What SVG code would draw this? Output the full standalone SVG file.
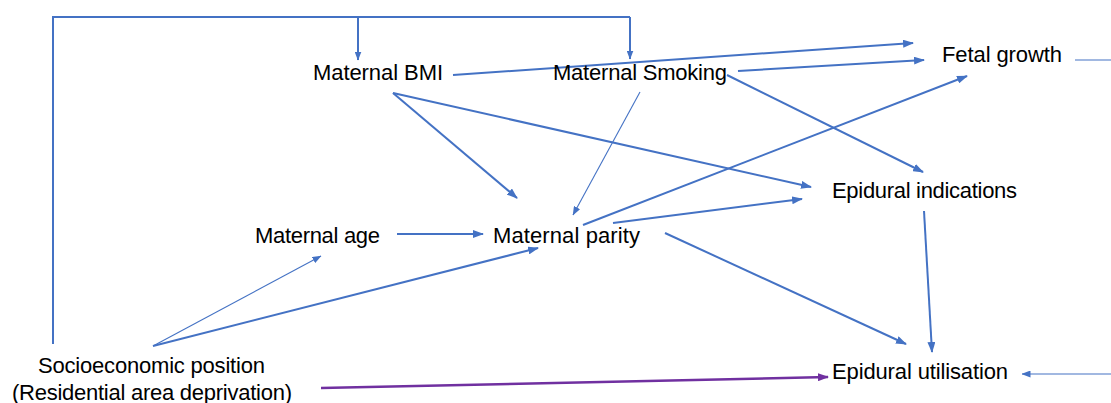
<svg xmlns="http://www.w3.org/2000/svg" width="1111" height="403" viewBox="0 0 1111 403">
<style>
text{font-family:"Liberation Sans",Arial,sans-serif;font-size:22px;fill:#000;text-anchor:middle}
.c{stroke:#4472C4;stroke-width:2;fill:none}
.t{stroke:#4472C4;stroke-width:1.1;fill:none}
.p{stroke:#7030A0;stroke-width:2.5;fill:none}
</style>
<defs>
<marker id="a" markerUnits="userSpaceOnUse" viewBox="0 0 11 8" refX="10" refY="4" markerWidth="11" markerHeight="8" orient="auto"><path d="M0,0 L11,4 L0,8 z" fill="#4472C4"/></marker>
<marker id="s" markerUnits="userSpaceOnUse" viewBox="0 0 9 7" refX="8.5" refY="3.5" markerWidth="9" markerHeight="7" orient="auto"><path d="M0,0 L9,3.5 L0,7 z" fill="#4472C4"/></marker>
<marker id="pm" markerUnits="userSpaceOnUse" viewBox="0 0 11 8" refX="10" refY="4" markerWidth="11" markerHeight="8" orient="auto"><path d="M0,0 L11,4 L0,8 z" fill="#7030A0"/></marker>
</defs>
<g id="connectors">
<path class="c" d="M53,344 V17 H630"/>
<line class="c" x1="358" y1="17" x2="358" y2="60" marker-end="url(#s)"/>
<line class="c" x1="630" y1="17" x2="630" y2="59" marker-end="url(#s)"/>
<line class="c" x1="453" y1="75" x2="913" y2="43" marker-end="url(#a)"/>
<line class="c" x1="738" y1="71" x2="924" y2="60" marker-end="url(#a)"/>
<line class="t" x1="1075" y1="60" x2="1111" y2="60"/>
<line class="c" x1="727" y1="75" x2="923" y2="172" marker-end="url(#a)"/>
<line class="c" x1="393" y1="93" x2="517" y2="198" marker-end="url(#a)"/>
<line class="c" x1="393" y1="93" x2="811" y2="187" marker-end="url(#a)"/>
<line class="t" x1="640" y1="92" x2="573" y2="215" marker-end="url(#s)"/>
<line class="c" x1="583" y1="225" x2="967" y2="76" marker-end="url(#a)"/>
<line class="c" x1="613" y1="223" x2="802" y2="199" marker-end="url(#a)"/>
<line class="c" x1="665" y1="233" x2="906" y2="344" marker-end="url(#a)"/>
<line class="c" x1="924" y1="211" x2="932" y2="352" marker-end="url(#a)"/>
<line class="c" x1="397" y1="234" x2="483" y2="234" marker-end="url(#a)"/>
<line class="t" x1="153" y1="346" x2="321" y2="256" marker-end="url(#s)"/>
<line class="c" x1="153" y1="346" x2="538" y2="248" marker-end="url(#a)"/>
<line class="p" x1="321" y1="388" x2="828" y2="377" marker-end="url(#pm)"/>
<line class="t" x1="1111" y1="374" x2="1022" y2="374" marker-end="url(#s)"/>
</g>
<g id="maternal-bmi"><text x="378" y="80" textLength="130">Maternal BMI</text></g>
<g id="maternal-smoking"><text x="640" y="80" textLength="174">Maternal Smoking</text></g>
<g id="fetal-growth"><text x="1002" y="62" textLength="120">Fetal growth</text></g>
<g id="epidural-indications"><text x="924.5" y="198" textLength="185">Epidural indications</text></g>
<g id="maternal-age"><text x="317.5" y="243" textLength="125">Maternal age</text></g>
<g id="maternal-parity"><text x="566.5" y="243" textLength="147">Maternal parity</text></g>
<g id="socioeconomic-position"><text x="151.5" y="373" textLength="227">Socioeconomic position</text><text x="152" y="400" textLength="280">(Residential area deprivation)</text></g>
<g id="epidural-utilisation"><text x="920" y="379" textLength="176">Epidural utilisation</text></g>
</svg>
